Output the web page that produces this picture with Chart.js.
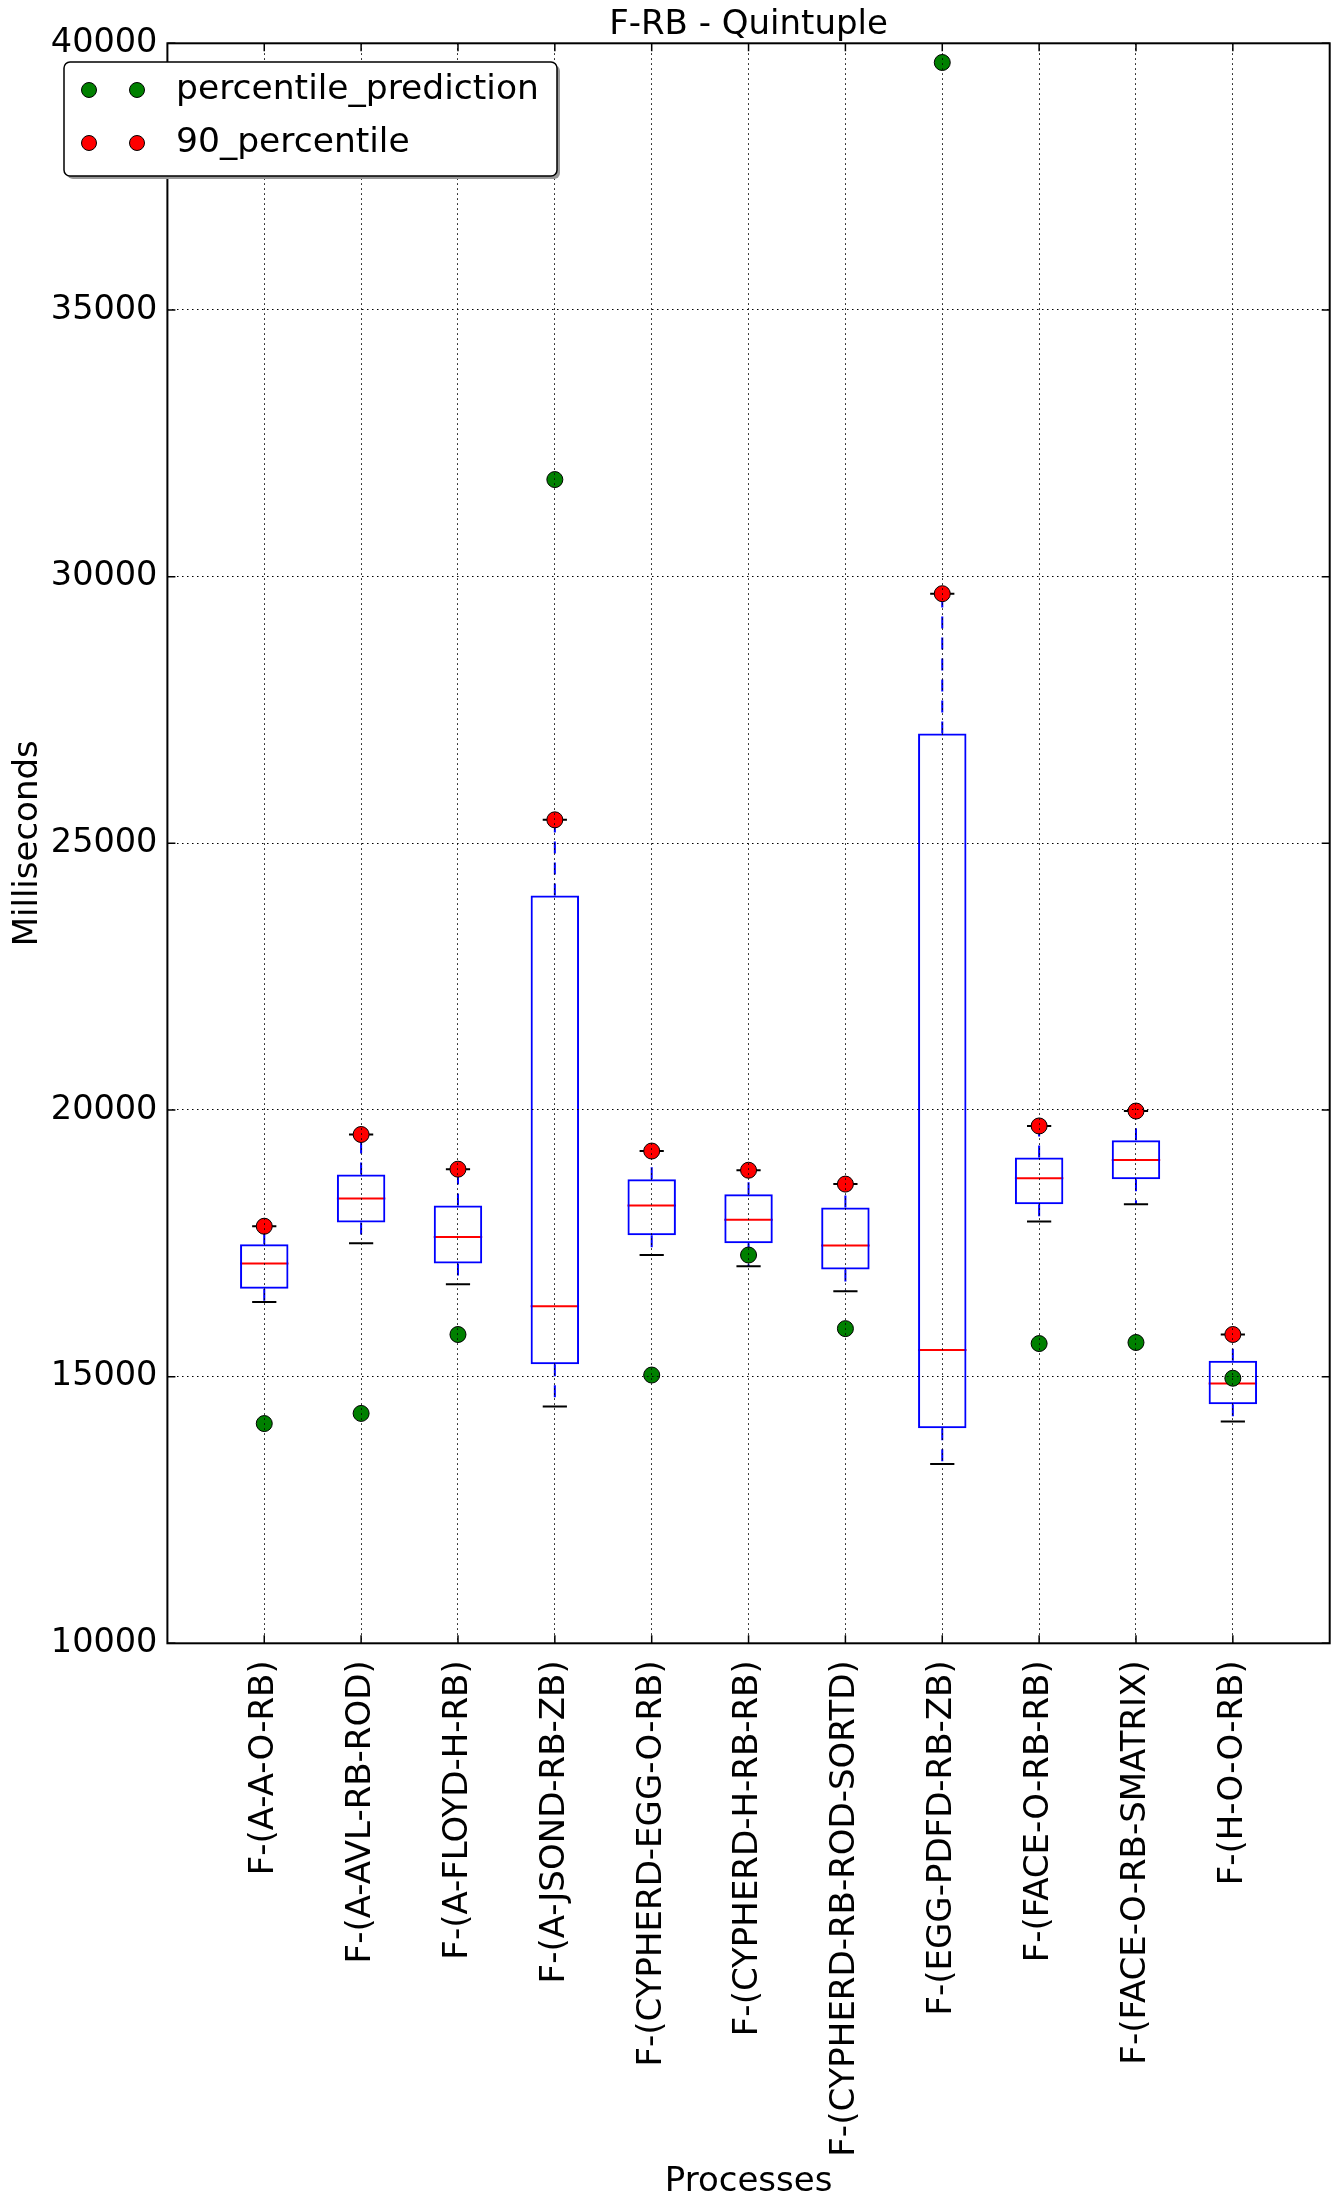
<!DOCTYPE html>
<html>
<head>
<meta charset="utf-8">
<script src="https://cdn.jsdelivr.net/npm/chart.js@4.4.0/dist/chart.umd.min.js"></script>
<style>
  html, body { margin: 0; padding: 0; background: #fff; }
</style>
</head>
<body>
<canvas id="chart" width="1339" height="2210"></canvas>
<script>
const categories = [
  'F-(A-A-O-RB)', 'F-(A-AVL-RB-ROD)', 'F-(A-FLOYD-H-RB)', 'F-(A-JSOND-RB-ZB)',
  'F-(CYPHERD-EGG-O-RB)', 'F-(CYPHERD-H-RB-RB)', 'F-(CYPHERD-RB-ROD-SORTD)',
  'F-(EGG-PDFD-RB-ZB)', 'F-(FACE-O-RB-RB)', 'F-(FACE-O-RB-SMATRIX)', 'F-(H-O-O-RB)'
];
const whiskerLow  = [16400, 17500, 16730, 14440, 17280, 17070, 16600, 13360, 17910, 18230, 14160];
const q1          = [16650, 17890, 17120, 15230, 17650, 17500, 17010, 14030, 18230, 18700, 14480];
const median      = [17120, 18340, 17620, 16320, 18210, 17940, 17460, 15500, 18720, 19060, 14870];
const q3          = [17480, 18790, 18210, 24020, 18700, 18420, 18170, 27060, 19110, 19430, 15300];
const whiskerHigh = [17820, 19540, 18890, 25440, 19230, 18870, 18610, 29680, 19700, 19980, 15790];
const percentile90 = [17820, 19540, 18890, 25440, 19230, 18870, 18610, 29680, 19700, 19980, 15790];
const prediction   = [14120, 14310, 15790, 31820, 15030, 17280, 15900, 39640, 15620, 15640, 14970];
const yTicks = [10000, 15000, 20000, 25000, 30000, 35000, 40000];

const FONT = 'DejaVu Sans';
// empty slot on each side, like matplotlib's boxplot positions 1..n
const pad = (arr) => [null, ...arr, null];

// whiskers, caps and medians drawn from the data through the scales
const boxParts = {
  id: 'boxParts',
  beforeDatasetsDraw(chart) {
    const {ctx, scales: {x, y}} = chart;
    const slot = x.getPixelForValue(2) - x.getPixelForValue(1);
    ctx.save();
    categories.forEach((name, i) => {
      const cx = x.getPixelForValue(i + 1);
      ctx.strokeStyle = '#0000ff';
      ctx.lineWidth = 2;
      ctx.setLineDash([12, 9]);
      ctx.beginPath();
      ctx.moveTo(cx, y.getPixelForValue(q3[i]));
      ctx.lineTo(cx, y.getPixelForValue(whiskerHigh[i]));
      ctx.moveTo(cx, y.getPixelForValue(q1[i]));
      ctx.lineTo(cx, y.getPixelForValue(whiskerLow[i]));
      ctx.stroke();
      ctx.setLineDash([]);
      ctx.strokeStyle = '#000';
      ctx.beginPath();
      [whiskerHigh[i], whiskerLow[i]].forEach(v => {
        const py = y.getPixelForValue(v);
        ctx.moveTo(cx - slot * 0.125, py);
        ctx.lineTo(cx + slot * 0.125, py);
      });
      ctx.stroke();
      ctx.strokeStyle = '#ff0000';
      ctx.beginPath();
      const my = y.getPixelForValue(median[i]);
      ctx.moveTo(cx - slot * 0.25, my);
      ctx.lineTo(cx + slot * 0.25, my);
      ctx.stroke();
    });
    ctx.restore();
  }
};

// axes frame with inward ticks, then the legend box
const frameAndLegend = {
  id: 'frameAndLegend',
  afterDraw(chart) {
    const {ctx, chartArea: a, scales: {x, y}} = chart;
    ctx.save();
    ctx.strokeStyle = '#000';
    ctx.lineWidth = 2;
    ctx.strokeRect(a.left, a.top, a.right - a.left, a.bottom - a.top);
    ctx.lineWidth = 1.5;
    ctx.beginPath();
    categories.forEach((name, i) => {
      const px = x.getPixelForValue(i + 1);
      ctx.moveTo(px, a.bottom); ctx.lineTo(px, a.bottom - 8);
      ctx.moveTo(px, a.top); ctx.lineTo(px, a.top + 8);
    });
    yTicks.forEach(v => {
      const py = y.getPixelForValue(v);
      ctx.moveTo(a.left, py); ctx.lineTo(a.left + 8, py);
      ctx.moveTo(a.right, py); ctx.lineTo(a.right - 8, py);
    });
    ctx.stroke();

    // legend
    const lx = 64, ly = 62, lw = 493, lh = 114;
    const rounded = (ox, oy) => {
      ctx.beginPath();
      ctx.roundRect(lx + ox, ly + oy, lw, lh, 6);
    };
    ctx.fillStyle = '#999';
    rounded(3, 3); ctx.fill();
    ctx.fillStyle = '#fff';
    rounded(0, 0); ctx.fill();
    ctx.strokeStyle = '#000';
    ctx.lineWidth = 1.5;
    ctx.stroke();
    const entries = [
      {label: 'percentile_prediction', color: '#008000', yy: 90},
      {label: '90_percentile', color: '#ff0000', yy: 143}
    ];
    ctx.font = '34.5px "' + FONT + '"';
    ctx.textBaseline = 'middle';
    ctx.textAlign = 'left';
    entries.forEach(e => {
      [89, 137].forEach(mx => {
        ctx.beginPath();
        ctx.arc(mx, e.yy, 7.5, 0, Math.PI * 2);
        ctx.fillStyle = e.color;
        ctx.fill();
        ctx.lineWidth = 1;
        ctx.strokeStyle = '#000';
        ctx.stroke();
      });
      ctx.fillStyle = '#000';
      ctx.fillText(e.label, 176, e.yy);
    });
    ctx.restore();
  }
};

new Chart(document.getElementById('chart'), {
  type: 'bar',
  data: {
    labels: pad(categories).map(c => c || ''),
    datasets: [{
      type: 'line',
      label: 'percentile_prediction',
      data: pad(prediction),
      showLine: false,
      pointRadius: 8,
      pointHoverRadius: 8,
      pointBackgroundColor: '#008000',
      pointBorderColor: '#000',
      pointBorderWidth: 1,
      order: 0
    }, {
      type: 'line',
      label: '90_percentile',
      data: pad(percentile90),
      showLine: false,
      pointRadius: 8,
      pointHoverRadius: 8,
      pointBackgroundColor: '#ff0000',
      pointBorderColor: '#000',
      pointBorderWidth: 1,
      order: 0
    }, {
      type: 'bar',
      label: 'box',
      data: pad(categories.map((c, i) => [q1[i], q3[i]])),
      backgroundColor: 'rgba(0,0,0,0)',
      borderColor: '#0000ff',
      borderWidth: 2,
      borderSkipped: false,
      categoryPercentage: 1,
      barPercentage: 0.5,
      order: 2
    }]
  },
  options: {
    responsive: false,
    animation: false,
    layout: { padding: { left: 0, right: 9.3, top: 0, bottom: 0 } },
    plugins: {
      legend: { display: false },
      tooltip: { enabled: false },
      title: {
        display: true,
        text: 'F-RB - Quintuple',
        fullSize: false,
        color: '#000',
        font: { family: FONT, size: 34, weight: 'normal', lineHeight: 1 },
        padding: { top: 8, bottom: 1.3 }
      }
    },
    scales: {
      x: {
        type: 'category',
        offset: false,
        grid: { offset: false, color: '#000', lineWidth: 1, drawTicks: false, z: 1 },
        border: { display: false, dash: [1.5, 3.5] },
        ticks: {
          autoSkip: false, maxRotation: 90, minRotation: 90, padding: 17,
          color: '#000', font: { family: FONT, size: 34 }
        },
        title: {
          display: true, text: 'Processes', color: '#000',
          font: { family: FONT, size: 34, lineHeight: 1 },
          padding: { top: 0, bottom: 11 }
        },
        afterFit(s) { s.height = 566.7; s.paddingLeft = 0; s.paddingRight = 0; }
      },
      y: {
        min: 10000,
        max: 40000,
        afterBuildTicks(s) { s.ticks = yTicks.map(v => ({ value: v })); },
        grid: { color: '#000', lineWidth: 1, drawTicks: false, z: 1 },
        border: { display: false, dash: [1.5, 3.5] },
        ticks: {
          padding: 10, color: '#000', font: { family: FONT, size: 33.5 },
          callback: v => String(v)
        },
        title: {
          display: true, text: 'Milliseconds', color: '#000',
          font: { family: FONT, size: 34, lineHeight: 1 },
          padding: { top: 11, bottom: 0 }
        },
        afterFit(s) { s.width = 167.4; s.paddingTop = 0; s.paddingBottom = 0; }
      }
    }
  },
  plugins: [boxParts, frameAndLegend]
});
</script>
</body>
</html>
